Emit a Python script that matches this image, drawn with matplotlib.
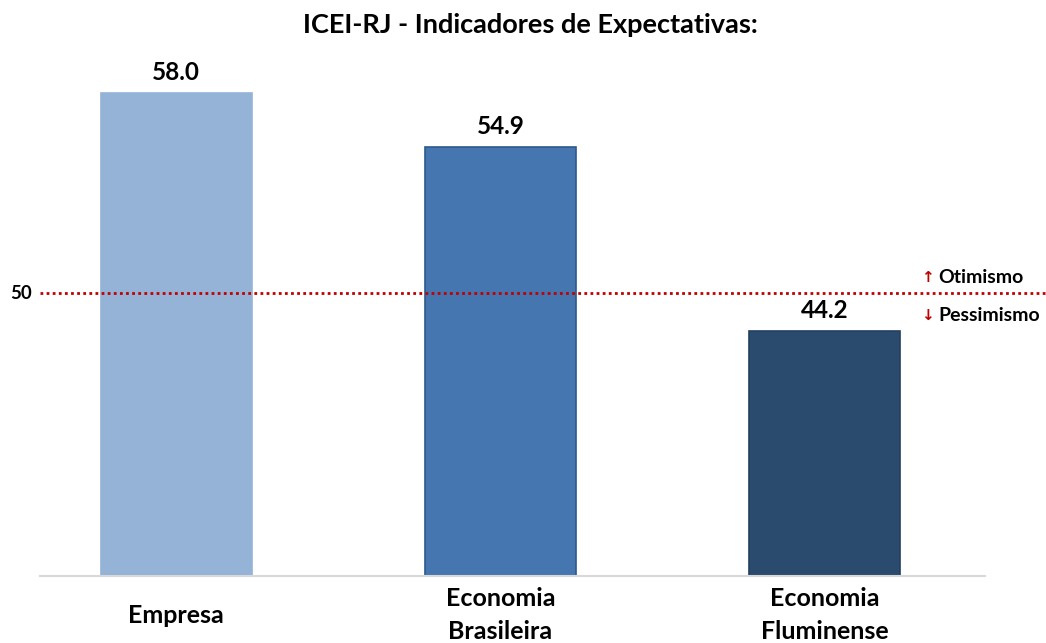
import matplotlib.pyplot as plt

# Data
categories = ["Empresa", "Economia\nBrasileira", "Economia\nFluminense"]
values = [58.0, 54.9, 44.2]
bar_colors = ["#95B3D7", "#4576AF", "#2A4A6E"]
edge_colors = ["#95B3D7", "#2C5A8C", "#22405F"]
ref_label = "50"
ref_pos = 46.4  # where the reference line sits in the original chart

plt.rcParams["font.family"] = ["Lato", "DejaVu Sans"]
plt.rcParams["font.weight"] = "bold"

fig = plt.figure(figsize=(10.46, 6.43), dpi=100)
ax = fig.add_axes([0.038, 0.104, 0.904, 0.805])

x = range(len(categories))
bars = ax.bar(x, values, width=0.466, color=bar_colors,
              edgecolor=edge_colors, linewidth=1.2, zorder=2)

# Value labels
for bar, v in zip(bars, values):
    ax.text(bar.get_x() + bar.get_width() / 2, v + 0.5, f"{v:.1f}",
            ha="center", va="bottom", fontsize=17.5, fontweight="bold")

ax.set_xlim(-0.421, 2.495)
ax.set_ylim(30, 60)

# Reference line
trans = ax.get_yaxis_transform()
ax.axhline(ref_pos, xmin=0, xmax=1.065, color="#C00000", linestyle=(0, (1, 1.2)),
           linewidth=2, clip_on=False, zorder=3)
ax.text(-0.008, ref_pos, ref_label, transform=trans,
        ha="right", va="center", fontsize=13.5, fontweight="bold")
ax.text(0.932, ref_pos + 0.9, "↑", transform=trans,
        ha="left", va="center", fontsize=11, color="#C00000", family="DejaVu Sans")
ax.text(0.950, ref_pos + 0.9, "Otimismo", transform=trans,
        ha="left", va="center", fontsize=14, fontweight="bold")
ax.text(0.932, ref_pos - 1.3, "↓", transform=trans,
        ha="left", va="center", fontsize=11, color="#C00000", family="DejaVu Sans")
ax.text(0.950, ref_pos - 1.3, "Pessimismo", transform=trans,
        ha="left", va="center", fontsize=14, fontweight="bold")

# Axes styling
ax.set_xticks(list(x))
ax.set_xticklabels(categories, fontsize=18, fontweight="bold", va="center",
                   linespacing=1.55)
ax.tick_params(axis="x", length=0, pad=28)
ax.set_yticks([])
for side in ["top", "right", "left"]:
    ax.spines[side].set_visible(False)
ax.spines["bottom"].set_color("#D9D9D9")
ax.spines["bottom"].set_linewidth(1.5)

fig.text(0.507, 1 - 25 / 643, "ICEI-RJ - Indicadores de Expectativas:",
         ha="center", va="center", fontsize=19.5, fontweight="bold")

fig.savefig("out.png", dpi=100)
